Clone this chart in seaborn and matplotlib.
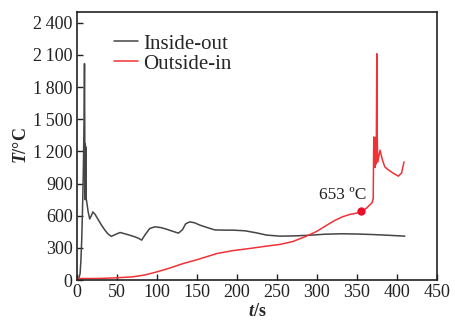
import numpy as np
import pandas as pd
import matplotlib
matplotlib.use('Agg')
import matplotlib.pyplot as plt
import seaborn as sns

# Inside-out curve (t in s, T in degC)
inside_t = [0, 2, 4, 5, 6, 7, 8, 9, 9.5, 9.8, 10.0, 10.2, 10.4, 10.6, 10.8, 11.0, 11.5, 12,
            14, 16, 18, 20, 23, 27, 31, 35, 39, 43, 48, 54, 60, 66, 72, 77, 81, 85, 91,
            97.5, 105, 112, 120, 127, 132, 136, 141, 147, 154, 163, 172.5, 185, 195,
            210, 225, 237, 254, 270, 290, 310, 330, 350, 370, 390, 410]
inside_T = [0, 10, 60, 180, 370, 650, 1000, 1500, 2018, 1500, 800, 1270, 750, 1260, 760,
            1240, 760, 745, 640, 570, 600, 636, 610, 559, 510, 466, 430, 408, 425, 444,
            432, 419, 405, 390, 373, 420, 481, 497, 490, 475, 455, 438, 470, 525, 543,
            535, 512, 490, 468, 466, 466, 460, 440, 420, 410, 412, 418, 428, 432, 430,
            425, 418, 410]

# Outside-in curve
outside_t = [0, 15, 29, 50, 70, 85, 100, 115, 133, 150, 175, 195, 216, 235, 254, 270, 287,
             300, 312, 322, 332, 341, 350, 356, 362, 366, 369, 370.5, 371.2, 371.8, 372.3,
             372.8, 373.3, 373.8, 374.3, 375.0, 375.6, 376.2, 379, 382, 385, 389, 393,
             397, 402, 406, 409]
outside_T = [15, 15, 16, 22, 31, 48, 77, 110, 155, 190, 248, 275, 295, 315, 333, 360, 410,
             455, 510, 555, 590, 612, 625, 640, 670, 700, 720, 760, 1335, 1060, 1300, 1050,
             1330, 1080, 1150, 2110, 1300, 1100, 1211, 1120, 1056, 1030, 1009, 990, 969,
             1000, 1102]

marker_t = 355
marker_T = 640
marker_label = '653 \u00baC'

x_ticks = [0, 50, 100, 150, 200, 250, 300, 350, 400, 450]
y_ticks = [0, 300, 600, 900, 1200, 1500, 1800, 2100, 2400]

df = pd.concat([
    pd.DataFrame({'t': inside_t, 'T': inside_T, 'series': 'Inside-out'}),
    pd.DataFrame({'t': outside_t, 'T': outside_T, 'series': 'Outside-in'}),
], ignore_index=True)

sns.set_theme(style='white')
plt.rcParams['font.family'] = ['Liberation Serif', 'DejaVu Serif']
plt.rcParams['mathtext.fontset'] = 'custom'
plt.rcParams['mathtext.it'] = 'Liberation Serif:italic:bold'
plt.rcParams['mathtext.rm'] = 'Liberation Serif:bold'
plt.rcParams['mathtext.bf'] = 'Liberation Serif:bold'

fig = plt.figure(figsize=(4.55, 3.22), dpi=100)
ax = fig.add_axes([0.169, 0.130, 0.791, 0.833])

sns.lineplot(data=df, x='t', y='T', hue='series', sort=False, estimator=None,
             palette={'Inside-out': '#454545', 'Outside-in': '#f03236'},
             linewidth=1.1, ax=ax)
ax.plot([marker_t], [marker_T], 'o', color='#e8102a', markersize=5)
ax.text(marker_t - 23, marker_T + 150, marker_label, ha='center', va='center',
        fontsize=12.5, color='#222222')

ax.set_xlim(0, 450)
ax.set_ylim(0, 2500)
ax.set_xticks(x_ticks)
ax.set_yticks(y_ticks)
ax.set_yticklabels([f'{v:,}'.replace(',', '\u2009') for v in y_ticks])
ax.tick_params(direction='in', length=4, width=1, labelsize=13, colors='#222222',
               left=True, bottom=True, pad=3)
for s in ax.spines.values():
    s.set_color('#222222')
    s.set_linewidth(1.2)

ax.set_xlabel(r'$t$/s', fontsize=13, fontweight='bold', labelpad=1)
ax.set_ylabel(r'$T$/' + '\u00b0C', fontsize=13, fontweight='bold', labelpad=2)

leg = ax.legend(loc='upper left', bbox_to_anchor=(0.05, 0.987), frameon=False,
                fontsize=15, handlelength=1.15, handletextpad=0.25, labelspacing=0.02)
leg.set_title(None)

fig.savefig('out.png', dpi=100)
